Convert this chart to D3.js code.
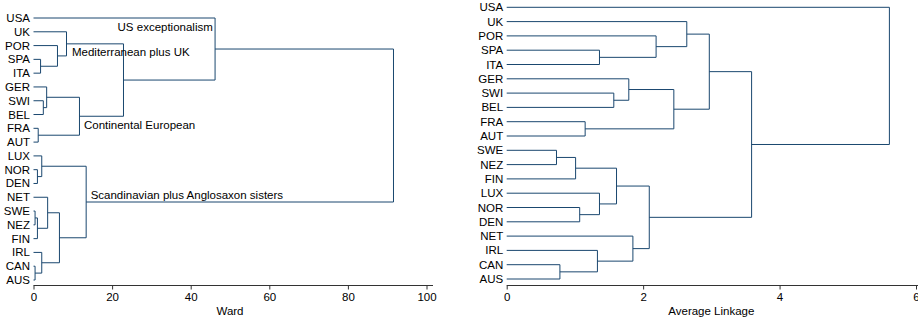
<!DOCTYPE html>
<html>
<head>
<meta charset="utf-8">
<script src="https://cdn.jsdelivr.net/npm/d3@7"></script>
<style>
  body { margin: 0; background: #fff; }
  svg text { font-family: "Liberation Sans", Arial, Helvetica, sans-serif; fill: #000; }
</style>
</head>
<body>
<div id="chart"></div>
<script>
// leaf order (top to bottom) and merges: [childA, childB, height]
// a number refers to an earlier merge (0-based), a string to a leaf
const leavesWard = ["USA", "UK", "POR", "SPA", "ITA", "GER", "SWI", "BEL", "FRA", "AUT",
    "LUX", "NOR", "DEN", "NET", "SWE", "NEZ", "FIN", "IRL", "CAN", "AUS"];
const mergesWard = [
    ["SPA", "ITA", 1.8],      // 0
    ["POR", 0, 6.1],          // 1
    ["UK", 1, 8.4],           // 2
    ["SWI", "BEL", 2.5],      // 3
    ["GER", 3, 3.35],         // 4
    ["FRA", "AUT", 1.2],      // 5
    [4, 5, 11.7],             // 6
    [2, 6, 22.9],             // 7
    ["USA", 7, 46.2],         // 8
    ["NOR", "DEN", 1.0],      // 9
    ["LUX", 9, 2.1],          // 10
    ["SWE", "NEZ", 0.4],      // 11
    [11, "FIN", 1.0],         // 12
    ["NET", 12, 3.6],         // 13
    ["CAN", "AUS", 0.4],      // 14
    ["IRL", 14, 2.1],         // 15
    [13, 15, 6.6],            // 16
    [10, 16, 13.4],           // 17
    [8, 17, 91.6]             // 18
];
const ticksWard = [0, 20, 40, 60, 80, 100];
const groupLabels = ["US exceptionalism", "Mediterranean plus UK", "Continental European", "Scandinavian plus Anglosaxon sisters"];

const leavesAvg = ["USA", "UK", "POR", "SPA", "ITA", "GER", "SWI", "BEL", "FRA", "AUT",
    "SWE", "NEZ", "FIN", "LUX", "NOR", "DEN", "NET", "IRL", "CAN", "AUS"];
const mergesAvg = [
    ["SPA", "ITA", 1.36],     // 0
    ["POR", 0, 2.19],         // 1
    ["UK", 1, 2.64],          // 2
    ["SWI", "BEL", 1.57],     // 3
    ["GER", 3, 1.79],         // 4
    ["FRA", "AUT", 1.15],     // 5
    [4, 5, 2.45],             // 6
    [2, 6, 2.97],             // 7
    ["SWE", "NEZ", 0.73],     // 8
    [8, "FIN", 1.01],         // 9
    ["NOR", "DEN", 1.07],     // 10
    ["LUX", 10, 1.36],        // 11
    [9, 11, 1.61],            // 12
    ["CAN", "AUS", 0.78],     // 13
    ["IRL", 13, 1.33],        // 14
    ["NET", 14, 1.85],        // 15
    [12, 15, 2.09],           // 16
    [7, 16, 3.59],            // 17
    ["USA", 17, 5.61]         // 18
];
const ticksAvg = [0, 2, 4, 6];

const width = 918, height = 321;
const lineColor = "#1a476f";

const svg = d3.select("#chart")
    .append("svg")
    .attr("width", width)
    .attr("height", height);

function drawDendro(opts) {
    const g = svg.append("g");
    const x = d3.scaleLinear().domain(opts.domain).range(opts.xRange);
    const y = d3.scalePoint().domain(opts.leaves).range(opts.yRange);

    // positions of merged nodes
    const nodes = [];
    const pos = c => (typeof c === "string") ? { x: x(0), y: y(c) } : nodes[c];
    opts.merges.forEach(m => {
        const a = pos(m[0]), b = pos(m[1]);
        const xm = x(m[2]);
        nodes.push({ x: xm, y: (a.y + b.y) / 2 });
        g.append("path")
            .attr("d", `M${a.x},${a.y}H${xm}V${b.y}H${b.x}`)
            .attr("fill", "none")
            .attr("stroke", lineColor)
            .attr("stroke-width", 1);
    });

    // leaf labels
    g.selectAll("text.leaf")
        .data(opts.leaves)
        .join("text")
        .attr("class", "leaf")
        .attr("x", x(0) - 3.5)
        .attr("y", d => y(d))
        .attr("dy", "0.35em")
        .attr("text-anchor", "end")
        .style("font-size", "11.5px")
        .text(d => d);

    // axis
    const axis = d3.axisBottom(x)
        .tickValues(opts.ticks)
        .tickFormat(d3.format("d"))
        .tickSize(4)
        .tickSizeOuter(0);
    const ax = g.append("g")
        .attr("transform", `translate(0,${opts.axisY})`)
        .call(axis);
    ax.select(".domain")
        .attr("d", `M${x(0)},0H${opts.axisEnd}`)
        .attr("stroke", "#333");
    ax.selectAll(".tick line").attr("stroke", "#333");
    ax.selectAll(".tick text")
        .attr("y", 7)
        .style("font-size", "11.5px")
        .style("font-family", "Liberation Sans, Arial, sans-serif")
        .attr("fill", "#000");

    g.append("text")
        .attr("x", (opts.xRange[0] + opts.xRange[1]) / 2)
        .attr("y", opts.axisY + 29)
        .attr("text-anchor", "middle")
        .style("font-size", "11.5px")
        .text(opts.title);

    return { x, y, nodes };
}

const ward = drawDendro({
    leaves: leavesWard, merges: mergesWard, ticks: ticksWard,
    domain: [0, 100], xRange: [33.5, 426.5], yRange: [18, 280],
    axisY: 285.5, axisEnd: 433, title: "Ward"
});

drawDendro({
    leaves: leavesAvg, merges: mergesAvg, ticks: ticksAvg,
    domain: [0, 6], xRange: [506.7, 916], yRange: [7.3, 279],
    axisY: 285.5, axisEnd: 918, title: "Average Linkage"
});

// cluster annotations on the Ward tree, placed near their nodes
const annot = [
    { node: 8, dx: -97.5, dy: -22 },
    { node: 2, dx: 5.5, dy: 8.5 },
    { node: 6, dx: 4.5, dy: 8.5 },
    { node: 17, dx: 4.5, dy: -7.5 }
];
svg.append("g").selectAll("text")
    .data(annot)
    .join("text")
    .attr("x", d => ward.nodes[d.node].x + d.dx)
    .attr("y", d => ward.nodes[d.node].y + d.dy)
    .attr("dy", "0.35em")
    .style("font-size", "11.5px")
    .text((d, i) => groupLabels[i]);
</script>
</body>
</html>
